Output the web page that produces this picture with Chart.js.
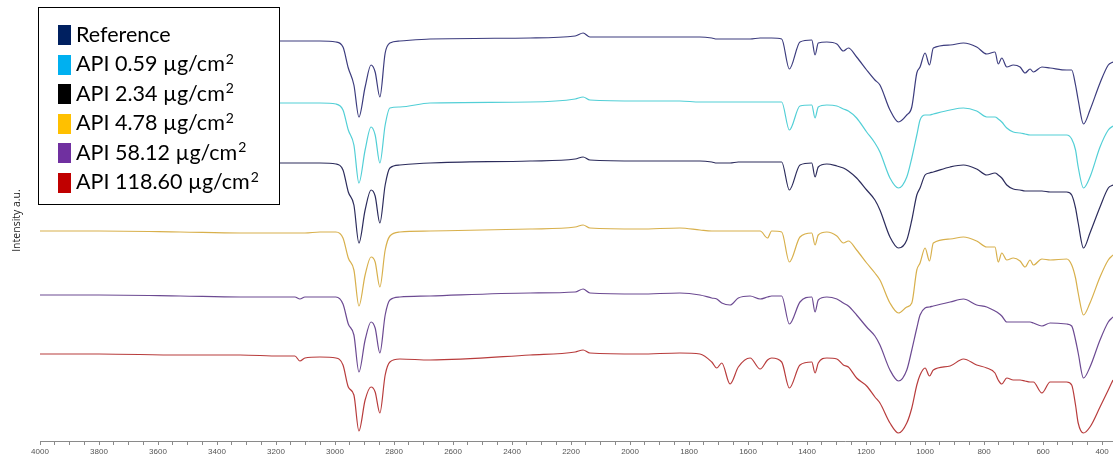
<!DOCTYPE html>
<html>
<head>
<meta charset="utf-8">
<script src="https://cdn.jsdelivr.net/npm/chart.js@4.4.1/dist/chart.umd.min.js"></script>
<style>
  html, body { margin: 0; padding: 0; background: #fff; }
  #wrap { position: relative; width: 1113px; height: 461px; }
</style>
</head>
<body>
<div id="wrap"><canvas id="ftirChart" width="1113" height="461"></canvas></div>
<script>
// wavenumbers (cm-1) shared by all spectra
const wavenumbers = [4000, 3800, 3525, 3322, 3186, 3136, 3119, 3102, 3051, 2997,
  2973, 2955, 2936, 2919, 2898, 2878, 2864, 2848, 2830, 2814,
  2780, 2678, 2339, 2186, 2159, 2136, 1966, 1831, 1763, 1723,
  1706, 1689, 1661, 1633, 1593, 1559, 1534, 1520, 1486, 1460,
  1424, 1384, 1373, 1362, 1333, 1299, 1277, 1260, 1232, 1198,
  1170, 1153, 1119, 1090, 1062, 1045, 1028, 1017, 1000, 985,
  972, 915, 870, 825, 791, 763, 752, 740, 723, 701,
  678, 661, 644, 633, 604, 576, 520, 503, 490, 481,
  463, 441, 407, 379, 363];

// stacked intensities (a.u.)
const reference = [399, 399, 399, 399, 399, 399, 399, 399, 399, 398,
  393, 372, 355, 323, 353, 375, 368, 343, 387, 397,
  399, 401, 402, 404, 407, 403, 403, 403, 403, 402,
  401, 401, 401, 401, 401, 402, 402, 402, 401, 371,
  398, 400, 385, 397, 398, 396, 389, 392, 383, 370,
  360, 355, 330, 318, 325, 333, 367, 373, 387, 375,
  392, 395, 397, 393, 386, 388, 376, 382, 373, 375,
  373, 367, 371, 368, 373, 372, 370, 370, 355, 340,
  316, 330, 357, 375, 378];

const api059 = [336, 336, 336, 336, 337, 337, 337, 337, 337, 336,
  330, 310, 295, 257, 290, 313, 305, 277, 315, 332,
  333, 337, 338, 341, 343, 340, 339, 339, 338, 338,
  338, 338, 338, 338, 338, 338, 338, 338, 338, 310,
  334, 335, 322, 333, 335, 334, 331, 329, 322, 308,
  297, 288, 262, 252, 263, 282, 305, 320, 325, 325,
  326, 330, 332, 329, 323, 323, 321, 318, 312, 308,
  307, 306, 305, 305, 305, 305, 305, 301, 290, 273,
  252, 263, 293, 310, 314];

const api234 = [277, 277, 277, 277, 277, 277, 277, 277, 277, 276,
  270, 248, 235, 197, 230, 250, 244, 217, 255, 272,
  275, 277, 279, 281, 283, 280, 279, 279, 279, 278,
  277, 277, 277, 278, 278, 278, 278, 278, 278, 250,
  275, 277, 263, 273, 276, 274, 272, 269, 262, 250,
  240, 230, 203, 192, 200, 220, 245, 252, 265, 267,
  268, 273, 275, 271, 265, 267, 265, 262, 255, 251,
  250, 249, 249, 249, 249, 248, 248, 245, 232, 217,
  192, 207, 233, 252, 255];

const api478 = [209, 209, 208, 207, 207, 207, 207, 207, 208, 208,
  202, 182, 170, 134, 165, 183, 178, 153, 190, 204,
  208, 209, 211, 213, 215, 212, 211, 212, 210, 209,
  209, 209, 209, 209, 209, 209, 202, 209, 208, 178,
  203, 207, 195, 205, 208, 204, 197, 199, 190, 177,
  167, 160, 137, 127, 133, 137, 170, 177, 192, 179,
  197, 201, 203, 199, 193, 193, 178, 187, 180, 182,
  179, 173, 180, 175, 181, 180, 181, 175, 162, 147,
  125, 137, 163, 180, 185];

const api5812 = [145, 145, 144, 143, 143, 143, 141, 143, 143, 143,
  136, 116, 105, 68, 100, 118, 112, 87, 125, 140,
  143, 144, 147, 148, 151, 147, 146, 147, 145, 142,
  141, 137, 135, 142, 144, 141, 143, 144, 144, 116,
  138, 143, 128, 140, 143, 141, 137, 134, 125, 113,
  104, 95, 70, 59, 70, 90, 112, 125, 132, 133,
  134, 138, 141, 135, 133, 129, 127, 124, 118, 118,
  118, 118, 118, 117, 114, 117, 116, 114, 100, 87,
  62, 73, 100, 118, 123];

const api11860 = [86, 86, 85, 85, 84, 84, 79, 82, 83, 82,
  75, 53, 45, 9, 40, 53, 48, 27, 65, 78,
  81, 80, 85, 88, 90, 87, 86, 87, 86, 78,
  72, 77, 56, 73, 82, 71, 80, 82, 78, 52,
  75, 78, 67, 77, 82, 81, 75, 73, 62, 54,
  43, 37, 17, 7, 17, 32, 55, 65, 72, 64,
  70, 74, 81, 75, 72, 67, 60, 56, 62, 60,
  60, 59, 58, 58, 47, 58, 58, 55, 35, 17,
  7, 13, 33, 50, 60];

const seriesLabels = ["Reference", "API 0.59 µg/cm²", "API 2.34 µg/cm²",
  "API 4.78 µg/cm²", "API 58.12 µg/cm²", "API 118.60 µg/cm²"];
const seriesValues = [reference, api059, api234, api478, api5812, api11860];
const lineColors = ["#3c3c7e", "#52cfd6", "#2c2c5c", "#d8b04c", "#6c4a92", "#b83c3c"];
const legendColors = ["#002060", "#00b0f0", "#000000", "#ffc000", "#7030a0", "#c00000"];

// legend drawn inside the plot, boxed, like the original figure
const boxLegend = {
    id: "boxLegend",
    afterDraw(chart) {
        const ctx = chart.ctx;
        ctx.save();
        ctx.fillStyle = "#fff";
        ctx.fillRect(38.5, 7.5, 241, 197);
        ctx.strokeStyle = "#000";
        ctx.lineWidth = 1;
        ctx.strokeRect(38.5, 7.5, 241, 197);
        ctx.textBaseline = "alphabetic";
        seriesLabels.forEach((label, i) => {
            let cy = 35 + i * 29.5;
            ctx.fillStyle = legendColors[i];
            ctx.fillRect(58, Math.round(cy - 10), 13, 20);
            ctx.fillStyle = "#000";
            // the superscript 2 is drawn a bit larger than the font's own glyph
            let parts = label.split("²");
            ctx.font = "21.5px Lato";
            ctx.fillText(parts[0], 76, cy + 6.5);
            if (parts.length > 1) {
                let w = ctx.measureText(parts[0]).width;
                ctx.font = "14px Lato";
                ctx.fillText("2", 76 + w + 1, cy - 1);
            }
        });
        ctx.restore();
    }
};

let ctx = document.getElementById("ftirChart").getContext("2d");

window.ftirChartInstance = new Chart(ctx, {
    type: "line",
    data: {
        datasets: seriesLabels.map((label, i) => ({
            label: label,
            data: wavenumbers.map((w, j) => ({ x: w, y: seriesValues[i][j] })),
            borderColor: lineColors[i],
            borderWidth: 1.2,
            pointRadius: 0,
            cubicInterpolationMode: "monotone",
            fill: false
        }))
    },
    options: {
        responsive: false,
        animation: false,
        devicePixelRatio: 1,
        layout: { padding: 0 },
        plugins: {
            legend: { display: false },
            tooltip: { enabled: false }
        },
        scales: {
            x: {
                type: "linear",
                reverse: true,
                min: 363,
                max: 4000,
                afterFit: s => { s.height = 20; },
                grid: { drawOnChartArea: false, tickLength: 4, color: "#8a8a8a" },
                border: { display: true, color: "#8a8a8a", width: 1 },
                ticks: {
                    stepSize: 50,
                    includeBounds: false,
                    autoSkip: false,
                    maxRotation: 0,
                    padding: 2,
                    color: "#555",
                    font: { family: "Liberation Sans", size: 8 },
                    callback: v => (v % 200 === 0 ? String(v) : "")
                }
            },
            y: {
                min: -1,
                max: 440,
                afterFit: s => { s.width = 40; },
                grid: { display: false },
                border: { display: false },
                ticks: { display: false },
                title: {
                    display: true,
                    text: "Intensity a.u.",
                    color: "#222",
                    padding: { top: 11, bottom: 0 },
                    font: { family: "Open Sans", size: 10.5 }
                }
            }
        }
    },
    plugins: [boxLegend]
});
</script>
</body>
</html>
